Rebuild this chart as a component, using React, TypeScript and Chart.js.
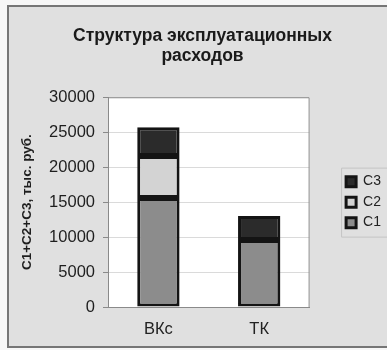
import { useEffect, useRef } from 'react';
import { Chart, registerables } from 'chart.js';

Chart.register(...registerables);

// Operating cost structure, thousand roubles
const categories = ['ВКс', 'ТК'];
const seriesNames = ['C1', 'C2', 'C3'];
const valuesC1 = [15600, 9600];
const valuesC2 = [6000, 0];
const valuesC3 = [4100, 3400];
const yTickValues = [0, 5000, 10000, 15000, 20000, 25000, 30000];
const chartTitle = ['Структура эксплуатационных', 'расходов'];
const yAxisTitle = 'C1+C2+C3, тыс. руб.';

const FONT = '"Liberation Sans", Arial, sans-serif';

// White plotting area behind the bars
const plotBackground = {
  id: 'plotBackground',
  beforeDraw(chart: any) {
    const { ctx, chartArea: a } = chart;
    ctx.save();
    ctx.fillStyle = '#ffffff';
    ctx.fillRect(a.left, a.top, a.right - a.left, a.bottom - a.top);
    ctx.restore();
  },
};

// Top and right edges of the plotting area
const plotFrame = {
  id: 'plotFrame',
  beforeDatasetsDraw(chart: any) {
    const { ctx, chartArea: a } = chart;
    ctx.save();
    ctx.strokeStyle = '#8a8a8a';
    ctx.lineWidth = 1;
    ctx.beginPath();
    ctx.moveTo(a.left, a.top + 0.5);
    ctx.lineTo(a.right - 0.5, a.top + 0.5);
    ctx.lineTo(a.right - 0.5, a.bottom);
    ctx.stroke();
    ctx.restore();
  },
};

// Thin box around the legend entries
const legendFrame = {
  id: 'legendFrame',
  afterDraw(chart: any) {
    const boxes = chart.legend?.legendHitBoxes;
    if (!boxes || !boxes.length) return;
    const left = Math.min(...boxes.map((b: any) => b.left)) - 5;
    const top = Math.min(...boxes.map((b: any) => b.top)) - 7;
    const bottom = Math.max(...boxes.map((b: any) => b.top + b.height)) + 7;
    const { ctx } = chart;
    ctx.save();
    ctx.strokeStyle = '#c4c4c4';
    ctx.lineWidth = 1;
    ctx.beginPath();
    ctx.moveTo(chart.width + 2, top + 0.5);
    ctx.lineTo(left + 0.5, top + 0.5);
    ctx.lineTo(left + 0.5, bottom + 0.5);
    ctx.lineTo(chart.width + 2, bottom + 0.5);
    ctx.stroke();
    ctx.restore();
  },
};

export default function App() {
  const canvasRef = useRef<HTMLCanvasElement>(null);

  useEffect(() => {
    const canvas = canvasRef.current;
    if (!canvas) return;
    const barStyle = {
      borderColor: '#141414',
      // an empty segment gets no outline
      borderWidth: (c: any) => (c.raw ? 3 : 0),
      borderSkipped: false as const,
      categoryPercentage: 1,
      barPercentage: 0.42,
      xAxisID: 'x',
      yAxisID: 'y',
    };
    const chart = new Chart(canvas, {
      type: 'bar',
      data: {
        labels: categories,
        datasets: [
          { label: seriesNames[0], data: valuesC1, backgroundColor: '#8c8c8c', ...barStyle },
          { label: seriesNames[1], data: valuesC2, backgroundColor: '#d3d3d3', ...barStyle },
          { label: seriesNames[2], data: valuesC3, backgroundColor: '#2b2b2b', ...barStyle },
        ],
      },
      options: {
        responsive: false,
        animation: false,
        devicePixelRatio: 1,
        layout: { padding: { left: 14, right: -4, top: 0, bottom: 0 } },
        plugins: {
          tooltip: { enabled: false },
          title: {
            display: true,
            text: chartTitle,
            color: '#1a1a1a',
            font: { family: FONT, size: 17.5, weight: 'bold', lineHeight: 1.15 },
            padding: { top: 26, bottom: 31 },
          },
          legend: {
            display: true,
            position: 'right',
            align: 'center',
            fullSize: false,
            reverse: true,
            labels: {
              color: '#222222',
              font: { family: FONT, size: 14 },
              boxWidth: 10,
              boxHeight: 10,
              padding: 6.5,
            },
          },
        },
        scales: {
          x: {
            stacked: true,
            grid: { display: false },
            border: { display: true, color: '#8a8a8a' },
            ticks: { color: '#222222', font: { family: FONT, size: 16.5 }, padding: 5 },
            afterFit(s: any) {
              s.height = 43;
            },
          },
          y: {
            stacked: true,
            position: 'left',
            min: 0,
            max: 30000,
            afterBuildTicks(s: any) {
              s.ticks = yTickValues.map((v) => ({ value: v }));
            },
            ticks: {
              color: '#1e1e1e',
              font: { family: FONT, size: 16.5 },
              padding: 8,
              callback: (v: any) => String(v),
            },
            grid: { color: '#dadada', lineWidth: 1, tickLength: 5, tickColor: '#8a8a8a' },
            border: { display: true, color: '#8a8a8a' },
            title: {
              display: true,
              text: yAxisTitle,
              color: '#1e1e1e',
              font: { family: FONT, size: 13.5, weight: 'bold' },
              padding: { top: 5, bottom: 0 },
            },
            afterFit(s: any) {
              s.width = 94;
            },
          },
          gap: {
            type: 'linear',
            position: 'right',
            display: true,
            grid: { display: false },
            border: { display: false },
            ticks: { display: false },
            afterFit(s: any) {
              s.width = 30;
            },
          },
        },
      },
      plugins: [plotBackground, plotFrame, legendFrame],
    } as any);
    return () => chart.destroy();
  }, []);

  return (
    <div
      style={{
        position: 'fixed',
        left: 0,
        top: 0,
        width: 387,
        height: 350,
        background: '#f7f7f7',
        overflow: 'hidden',
      }}
    >
      <div
        style={{
          position: 'absolute',
          left: 7,
          top: 5,
          width: 400,
          height: 339,
          background: '#e0e0e0',
          borderLeft: '2px solid #767676',
          borderTop: '2px solid #767676',
          borderBottom: '2px solid #767676',
        }}
      />
      <canvas
        ref={canvasRef}
        width={387}
        height={350}
        style={{ position: 'absolute', left: 0, top: 0, width: 387, height: 350 }}
      />
    </div>
  );
}
